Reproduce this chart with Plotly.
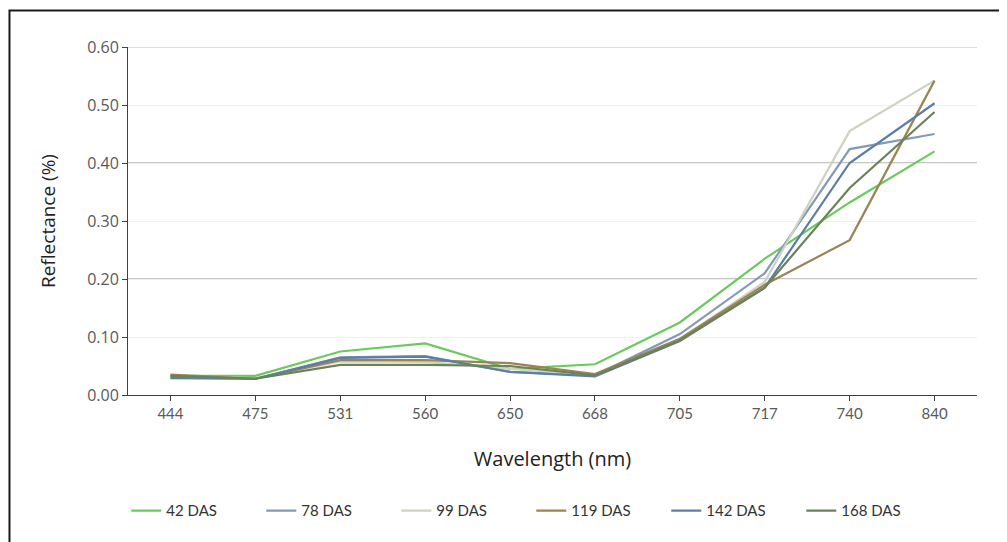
import plotly.graph_objects as go

wavelengths = ["444", "475", "531", "560", "650", "668", "705", "717", "740", "840"]

das_42 = [0.033, 0.033, 0.075, 0.089, 0.045, 0.053, 0.125, 0.235, 0.332, 0.420]
das_78 = [0.030, 0.028, 0.065, 0.067, 0.040, 0.034, 0.105, 0.210, 0.424, 0.450]
das_99 = [0.032, 0.029, 0.058, 0.057, 0.045, 0.035, 0.096, 0.195, 0.455, 0.542]
das_119 = [0.035, 0.028, 0.060, 0.060, 0.055, 0.036, 0.097, 0.190, 0.267, 0.542]
das_142 = [0.029, 0.028, 0.064, 0.066, 0.040, 0.032, 0.093, 0.185, 0.400, 0.503]
das_168 = [0.033, 0.028, 0.052, 0.052, 0.050, 0.034, 0.094, 0.185, 0.357, 0.488]

series_names = ["42 DAS", "78 DAS", "99 DAS", "119 DAS", "142 DAS", "168 DAS"]
series_values = [das_42, das_78, das_99, das_119, das_142, das_168]
series_colors = ["#6cc95e", "#8399b9", "#ccd3c0", "#9c8452", "#5b7ea6", "#6b8258"]

y_ticks = [0.0, 0.1, 0.2, 0.3, 0.4, 0.5, 0.6]
dark_grid = [0.2, 0.4]
top_grid = [0.6]

fig = go.Figure()
for name, vals, col in zip(series_names, series_values, series_colors):
    fig.add_trace(go.Scatter(x=wavelengths, y=vals, mode="lines", name=name,
                             line=dict(color=col, width=2.2)))

shapes = []
for g in dark_grid:
    shapes.append(dict(type="line", xref="paper", yref="y", x0=0, x1=1, y0=g, y1=g,
                       line=dict(color="#8a8a8a", width=1), layer="below"))
for g in top_grid:
    shapes.append(dict(type="line", xref="paper", yref="y", x0=0, x1=1, y0=g, y1=g,
                       line=dict(color="#bdbdbd", width=1), layer="below"))
# outer frame
shapes.append(dict(type="rect", xref="paper", yref="paper", x0=-0.1396, x1=1.05,
                   y0=-0.45, y1=1.1049, line=dict(color="#1a1a1a", width=2),
                   fillcolor="rgba(0,0,0,0)", layer="above"))

fig.update_layout(
    width=999, height=534,
    margin=dict(l=120, r=30, t=39, b=147),
    paper_bgcolor="white", plot_bgcolor="white",
    font=dict(family="Open Sans, sans-serif", color="#404040"),
    shapes=shapes,
    showlegend=True,
    legend=dict(orientation="h", x=0.475, xanchor="center", y=-0.333, yanchor="middle",
                font=dict(family="Lato, sans-serif", size=15, color="#333333"),
                entrywidth=90, itemwidth=30),
    xaxis=dict(
        type="category", range=[-0.5, 9.5],
        showline=True, linecolor="#404040", linewidth=1,
        ticks="outside", ticklen=5, tickcolor="#404040",
        tickfont=dict(family="Lato, sans-serif", size=15, color="#595959"),
        showgrid=False, zeroline=False,
        title=dict(text="Wavelength (nm)", font=dict(family="Open Sans, sans-serif", size=20, color="#222222"),
                   standoff=30),
    ),
    yaxis=dict(
        range=[0, 0.6], tickvals=y_ticks, tickformat=".2f",
        showline=True, linecolor="#404040", linewidth=1,
        ticks="outside", ticklen=5, tickcolor="#404040",
        tickfont=dict(family="Open Sans, sans-serif", size=16, color="#595959"),
        showgrid=True, gridcolor="#f0f0f0", gridwidth=1, zeroline=False,
        title=dict(text="Reflectance (%)", font=dict(family="Open Sans, sans-serif", size=19, color="#222222"),
                   standoff=26),
    ),
)

fig.write_html("out.html")
